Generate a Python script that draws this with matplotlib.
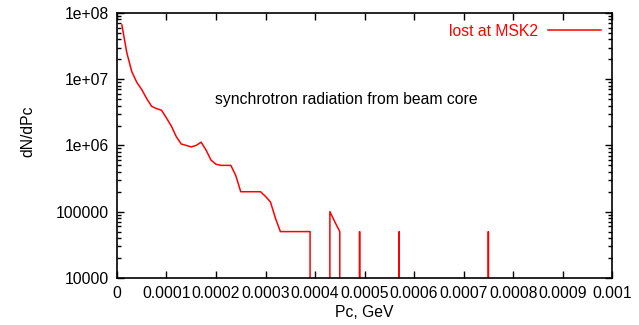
"""Synchrotron radiation spectrum lost at MSK2 (gnuplot-style log plot)."""

import matplotlib
matplotlib.use("Agg")
import matplotlib.pyplot as plt
import matplotlib.ticker as ticker

plt.rcParams["font.family"] = ["Liberation Sans", "DejaVu Sans"]

# bin centres in units of 1e-5 GeV, and dN/dPc per bin (0 = empty bin)
pc_bins = list(range(1, 77))
dn_dpc = [
    6.6e7, 2.5e7, 1.3e7, 9.0e6, 7.0e6, 5.1e6, 3.9e6, 3.6e6, 3.4e6, 2.6e6,
    1.95e6, 1.35e6, 1.05e6, 1.0e6, 9.5e5, 1.0e6, 1.12e6, 8.5e5, 6.0e5, 5.2e5,
    5.0e5, 5.0e5, 5.0e5, 3.5e5, 2.0e5, 2.0e5, 2.0e5, 2.0e5, 2.0e5, 1.7e5,
    1.4e5, 8.0e4, 5.0e4, 5.0e4, 5.0e4, 5.0e4, 5.0e4, 5.0e4, 5.0e4, 0,
    0, 0, 1.0e5, 7.0e4, 5.0e4, 0, 0, 0, 5.0e4, 0,
    0, 0, 0, 0, 0, 0, 5.0e4, 0, 0, 0,
    0, 0, 0, 0, 0, 0, 0, 0, 0, 0,
    0, 0, 0, 0, 5.0e4, 0,
]
pc = [b * 1e-5 for b in pc_bins]

x_ticks = [i * 1e-4 for i in range(11)]
x_tick_labels = ["0", "0.0001", "0.0002", "0.0003", "0.0004", "0.0005",
                 "0.0006", "0.0007", "0.0008", "0.0009", "0.001"]
y_ticks = [1e4, 1e5, 1e6, 1e7, 1e8]
y_tick_labels = ["10000", "100000", "1e+06", "1e+07", "1e+08"]

FS = 11.3

fig = plt.figure(figsize=(6.39, 3.25), dpi=100)
ax = fig.add_axes([0.183, 0.145, 0.775, 0.815])

ax.plot(pc, dn_dpc, color="#ff0000", linewidth=1.1, label="lost at MSK2")
ax.set_yscale("log", nonpositive="clip")
ax.set_xlim(0, 0.001)
ax.set_ylim(1e4, 1e8)

ax.set_xticks(x_ticks)
ax.set_xticklabels(x_tick_labels)
ax.set_yticks(y_ticks)
ax.set_yticklabels(y_tick_labels)
ax.yaxis.set_minor_locator(ticker.LogLocator(base=10, subs=range(2, 10)))
ax.yaxis.set_minor_formatter(ticker.NullFormatter())

ax.tick_params(which="both", direction="in", top=True, right=True,
               labelsize=FS, colors="black", width=1.0)
ax.tick_params(which="major", length=5, pad=6)
ax.tick_params(which="minor", length=3)
for sp in ax.spines.values():
    sp.set_linewidth(1.2)

ax.set_xlabel("Pc, GeV", fontsize=FS, labelpad=3)
ax.set_ylabel("dN/dPc", fontsize=FS, labelpad=12)
ax.yaxis.set_label_coords(-0.165, 0.555)

ax.text(0.000198, 4.9e6, "synchrotron radiation from beam core", fontsize=FS,
        color="black", va="center", ha="left")

ax.legend(loc="upper right", frameon=False, fontsize=FS, markerfirst=False,
          labelcolor="#ff0000", handlelength=3.4, borderaxespad=0.3,
          handletextpad=0.6)

fig.savefig("out.png", dpi=100)
